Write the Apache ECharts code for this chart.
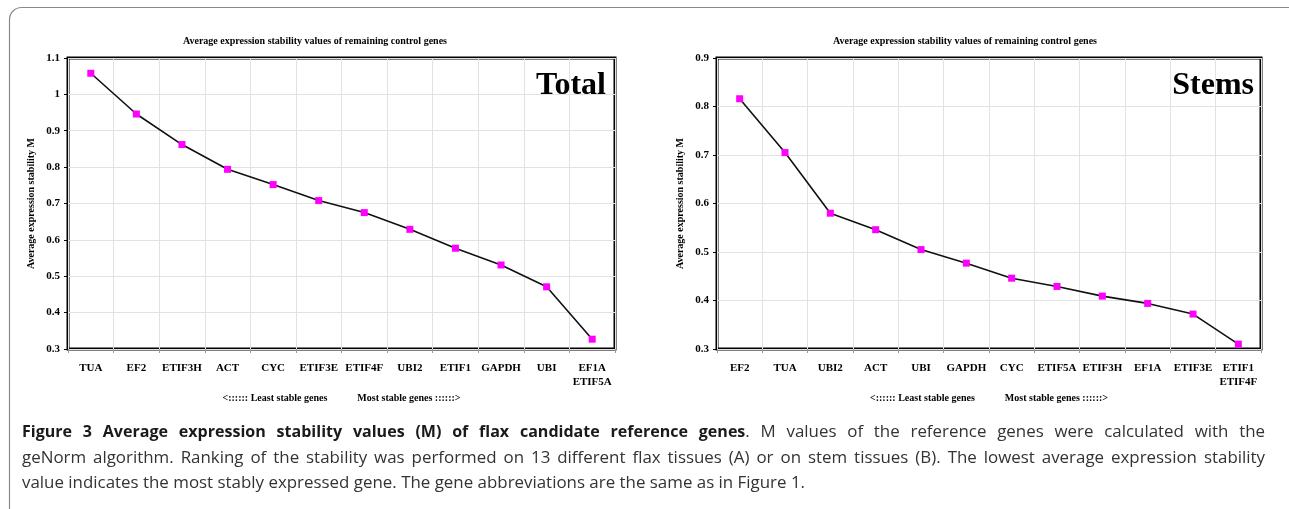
<!DOCTYPE html>
<html>
<head>
<meta charset="utf-8">
<script src="https://cdn.jsdelivr.net/npm/echarts@6/dist/echarts.min.js"></script>
<style>
html,body{margin:0;padding:0;background:#fff;}
#chart{width:1289px;height:509px;}
</style>
</head>
<body>
<div id="chart"></div>
<script>
// ---- data ----
const totalGenes = ['TUA','EF2','ETIF3H','ACT','CYC','ETIF3E','ETIF4F','UBI2','ETIF1','GAPDH','UBI','EF1A\nETIF5A'];
const totalM     = [1.058, 0.946, 0.862, 0.794, 0.752, 0.708, 0.675, 0.629, 0.577, 0.531, 0.471, 0.327];
const stemGenes  = ['EF2','TUA','UBI2','ACT','UBI','GAPDH','CYC','ETIF5A','ETIF3H','EF1A','ETIF3E','ETIF1\nETIF4F'];
const stemM      = [0.816, 0.705, 0.580, 0.546, 0.505, 0.477, 0.446, 0.429, 0.409, 0.394, 0.372, 0.310];
const chartTitle = 'Average expression stability values of remaining control genes';
const yName = 'Average expression stability M';
const xName = '<:::::: Least stable genes            Most stable genes ::::::>';
const capBold = 'Figure 3 Average expression stability values (M) of flax candidate reference genes';
const capLine1 = '. M values of the reference genes were calculated with the';
const capLine2 = 'geNorm algorithm. Ranking of the stability was performed on 13 different flax tissues (A) or on stem tissues (B). The lowest average expression stability';
const capLine3 = 'value indicates the most stably expressed gene. The gene abbreviations are the same as in Figure 1.';

const serif = '"Liberation Serif", "Times New Roman", serif';
const sans = '"Open Sans", "Noto Sans", sans-serif';
const capSize = 16;
const capLeft = 22, capRight = 1265, capTop = 420, capLH = 25.5;
const line3End = 805;
const fN = capSize + 'px ' + sans, fB = 'bold ' + capSize + 'px ' + sans;

// text measurement for caption layout (justified text like the reference)
const cv = document.createElement('canvas').getContext('2d');
function tw(s, f) { cv.font = f; return cv.measureText(s).width; }
const sN = (line3End - capLeft) / tw(capLine3, fN);
const sB = sN * 0.95;

function txt(x, y, scale, text, font, color) {
  return { type: 'text', x: x, y: y, scaleX: scale, silent: true,
    style: { text: text, fill: color, font: font, textVerticalAlign: 'middle', verticalAlign: 'middle' } };
}
// tokens: {t, font, scale, color, attach}
function justify(tokens, x0, x1, y) {
  tokens.forEach(k => k.w = tw(k.t, k.font) * k.scale);
  const sum = tokens.reduce((a, k) => a + k.w, 0);
  const nGaps = tokens.filter((k, i) => i > 0 && !k.attach).length;
  const gap = (x1 - x0 - sum) / nGaps;
  const out = []; let x = x0;
  tokens.forEach((k, i) => {
    if (i > 0 && !k.attach) x += gap;
    out.push(txt(x, y, k.scale, k.t, k.font, k.color));
    x += k.w;
  });
  return out;
}
const capEls = [];
const y1 = capTop + capLH / 2, y2 = capTop + capLH * 1.5, y3 = capTop + capLH * 2.5;
const t1 = capBold.split(' ').map(t => ({ t: t, font: fB, scale: sB, color: '#1a1a1a' }));
capLine1.split(' ').forEach((t, i) => t1.push({ t: t, font: fN, scale: sN, color: '#333', attach: i === 0 }));
capEls.push(...justify(t1, capLeft, capRight, y1));
capEls.push(...justify(capLine2.split(' ').map(t => ({ t: t, font: fN, scale: sN, color: '#333' })), capLeft, capRight, y2));
capEls.push(txt(capLeft, y3, sN, capLine3, fN, '#333'));

const chart = echarts.init(document.getElementById('chart'));

function xAxisCfg(idx, data) {
  return {
    type: 'category', gridIndex: idx, data: data, boundaryGap: true,
    axisLine: { show: false },
    axisTick: { show: true, length: 4, lineStyle: { color: '#999' } },
    axisLabel: { interval: 0, color: '#000', fontFamily: serif, fontWeight: 'bold', fontSize: 11, margin: 12, lineHeight: 14, verticalAlign: 'top' },
    splitLine: { show: true, lineStyle: { color: '#e2e2e2', width: 1 } },
    name: xName, nameLocation: 'middle', nameGap: 42,
    nameTextStyle: { color: '#000', fontFamily: serif, fontWeight: 'bold', fontSize: 10 }
  };
}
function yAxisCfg(idx, min, max) {
  return {
    type: 'value', gridIndex: idx, min: min, max: max, interval: 0.1,
    axisLine: { show: false },
    axisTick: { show: true, length: 4, lineStyle: { color: '#000' } },
    axisLabel: { color: '#000', fontFamily: serif, fontWeight: 'bold', fontSize: 11, margin: 8,
      formatter: v => String(Math.round(v * 10) / 10) },
    splitLine: { show: true, lineStyle: { color: '#e2e2e2', width: 1 } },
    name: yName, nameLocation: 'middle', nameGap: 32,
    nameTextStyle: { color: '#000', fontFamily: serif, fontWeight: 'bold', fontSize: 10 }
  };
}
function seriesCfg(idx, data) {
  return {
    type: 'line', xAxisIndex: idx, yAxisIndex: idx, data: data,
    symbol: 'rect', symbolSize: 7, showSymbol: true,
    lineStyle: { color: '#111', width: 1.6 },
    itemStyle: { color: '#ff00ff' },
    z: 5
  };
}

chart.setOption({
  animation: false,
  backgroundColor: '#fff',
  grid: [
    { left: 68, top: 58, width: 547, height: 291, show: true, borderColor: '#000', borderWidth: 3, backgroundColor: '#fff' },
    { left: 717, top: 58, width: 544, height: 291, show: true, borderColor: '#000', borderWidth: 3, backgroundColor: '#fff' }
  ],
  xAxis: [ xAxisCfg(0, totalGenes), xAxisCfg(1, stemGenes) ],
  yAxis: [ yAxisCfg(0, 0.3, 1.1), yAxisCfg(1, 0.3, 0.9) ],
  series: [ seriesCfg(0, totalM), seriesCfg(1, stemM) ],
  graphic: [
    { type: 'rect', silent: true, z: -1,
      shape: { x: 9.5, y: 7.5, width: 1300, height: 520, r: 12 },
      style: { fill: 'none', stroke: '#8a8a8a', lineWidth: 1.2 } },
    { type: 'text', x: 315, y: 36, style: { text: chartTitle, fill: '#000', font: 'bold 10px ' + serif, align: 'center', textAlign: 'center' } },
    { type: 'text', x: 965, y: 36, style: { text: chartTitle, fill: '#000', font: 'bold 10px ' + serif, align: 'center', textAlign: 'center' } },
    { type: 'text', right: 1289 - 606, top: 70, z: 10, style: { text: 'Total', fill: '#000', font: 'bold 32px ' + serif } },
    { type: 'text', right: 1289 - 1254, top: 70, z: 10, style: { text: 'Stems', fill: '#000', font: 'bold 32px ' + serif } }
  ].concat(capEls)
});
</script>
</body>
</html>
